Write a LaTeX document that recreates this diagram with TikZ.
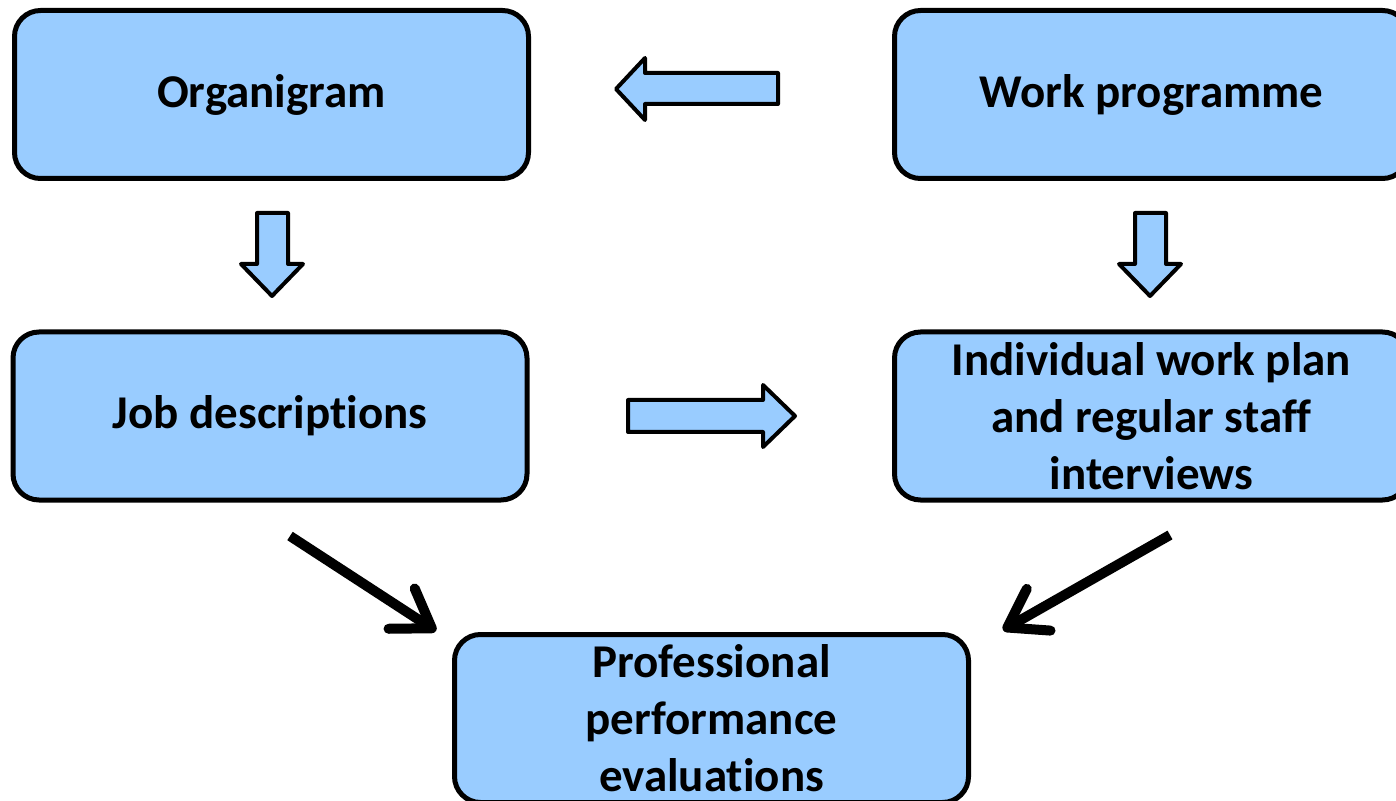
\documentclass[tikz,border=0pt]{standalone}
\usepackage{fontspec}
\setmainfont[Ligatures=NoCommon]{Carlito}
\usetikzlibrary{arrows.meta}
\definecolor{boxblue}{RGB}{153,204,255}
\begin{document}
\begin{tikzpicture}[x=0.5pt, y=-0.5pt,
    box/.style={draw, line width=2.5pt, fill=boxblue, rounded corners=13pt,
      minimum width=257pt, minimum height=84pt, align=center,
      font=\fontsize{23.5}{28.5}\selectfont\bfseries},
    blockarrow/.style={draw, line width=2pt, fill=boxblue, line join=round},
    flow/.style={line width=5pt, -{Straight Barb[round, length=18pt, width=24pt]}}]
      \useasboundingbox (0,0) rectangle (1396,801);
      % boxes
      \node[box] (org) at (271.5,94.5) {Organigram};
      \node[box] (work) at (1151.5,94.5) {Work programme};
      \node[box] (job) at (270,416) {Job descriptions};
      \node[box] (ind) at (1151.5,416) {Individual work plan\\and regular staff\\interviews};
      \node[box] (prof) at (711.5,718.5) {Professional\\performance\\evaluations};
      % block arrows
      \draw[blockarrow] (778,73) -- (645,73) -- (645,58) -- (616,89) -- (645,120) -- (645,104) -- (778,104) -- cycle;
      \foreach \dx in {0,878}
        \draw[blockarrow, xshift=\dx*0.5pt] (257,213) -- (288,213) -- (288,264) -- (303,264) -- (272,296) -- (241,264) -- (257,264) -- cycle;
      \draw[blockarrow] (628,400) -- (763,400) -- (763,385) -- (795,416) -- (763,447) -- (763,432) -- (628,432) -- cycle;
      % to the evaluations
      \coordinate (jobout) at (290,536);
      \coordinate (profleft) at (436,631);
      \coordinate (indout) at (1170,535);
      \coordinate (profright) at (1003,630);
      \draw[flow] (jobout) -- (profleft);
      \draw[flow] (indout) -- (profright);
\end{tikzpicture}
\end{document}
